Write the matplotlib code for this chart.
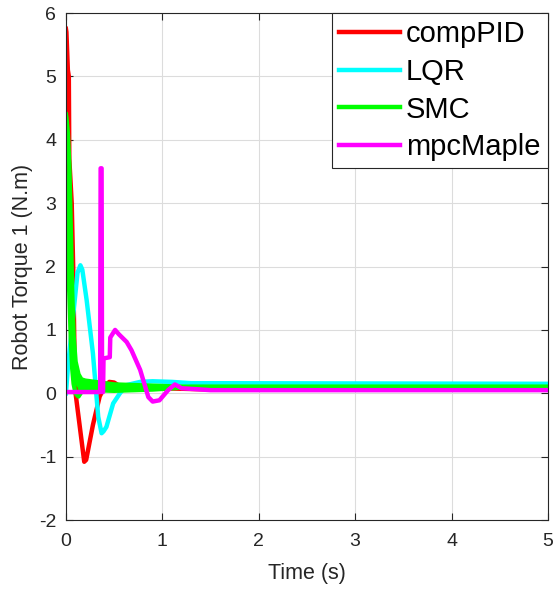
import matplotlib
matplotlib.use('Agg')
import matplotlib.pyplot as plt

plt.rcParams['font.family'] = ['Liberation Sans', 'DejaVu Sans']
plt.rcParams['axes.unicode_minus'] = False

# compPID
pid_t = [0, 0.005, 0.02, 0.03, 0.035, 0.06, 0.075, 0.09, 0.1, 0.19, 0.21, 0.28, 0.35, 0.4, 0.45,
         0.5, 0.55, 0.65, 0.8, 1.0, 1.5, 5.0]
pid_v = [5.75, 5.7, 5.1, 5.0, 3.7, 3.0, 2.0, 0.5, 0.0, -1.08, -1.05, -0.5, -0.05, 0.1, 0.18,
         0.17, 0.12, 0.08, 0.1, 0.08, 0.06, 0.06]

# LQR
lqr_t = [0, 0.02, 0.12, 0.15, 0.17, 0.215, 0.28, 0.335, 0.37, 0.39, 0.42, 0.49, 0.56, 0.63,
         0.77, 0.9, 1.1, 1.3, 5.0]
lqr_v = [0, 0.4, 1.9, 2.02, 1.95, 1.47, 0.63, -0.37, -0.63, -0.6, -0.53, -0.16, 0.0, 0.13,
         0.18, 0.19, 0.18, 0.16, 0.15]

# SMC (chattering band: upper / lower envelope)
smc_t = [0, 0.005, 0.02, 0.035, 0.05, 0.065, 0.08, 0.1, 0.13, 0.16, 0.2, 0.3, 0.5, 0.7, 0.9,
         1.1, 1.3, 5.0]
smc_hi = [4.4, 4.35, 4.1, 3.6, 2.6, 1.6, 0.9, 0.5, 0.3, 0.22, 0.2, 0.18, 0.14, 0.13, 0.12,
          0.11, 0.1, 0.1]
smc_lo = [1.8, 1.8, 1.9, 1.6, 0.9, 0.4, 0.15, 0.0, -0.05, 0.02, 0.05, 0.05, 0.04, 0.05, 0.06,
          0.08, 0.1, 0.1]

# mpcMaple
mpc_t = [0, 0.355, 0.36, 0.37, 0.375, 0.385, 0.39, 0.455, 0.46, 0.51, 0.55, 0.63, 0.68, 0.77,
         0.855, 0.9, 0.97, 1.06, 1.13, 1.2, 1.5, 5.0]
mpc_v = [0.02, 0.02, 3.55, 3.55, 0.02, 0.02, 0.55, 0.57, 0.88, 1.0, 0.93, 0.81, 0.68, 0.37,
         -0.06, -0.13, -0.11, 0.05, 0.14, 0.08, 0.05, 0.05]

lw = 3.2
fig = plt.figure(figsize=(5.54, 5.91), dpi=100)
ax = fig.add_axes([0.119, 0.120, 0.870, 0.858])

ax.plot(pid_t, pid_v, color='#ff0000', lw=lw, label='compPID')
ax.plot(lqr_t, lqr_v, color='#00ffff', lw=lw, label='LQR')
smc_mid = [(a + b) / 2 for a, b in zip(smc_hi, smc_lo)]
ax.fill_between(smc_t, smc_lo, smc_hi, color='#00ff00', lw=0)
ax.plot(smc_t, smc_hi, color='#00ff00', lw=lw)
ax.plot(smc_t, smc_lo, color='#00ff00', lw=lw)
ax.plot(smc_t, smc_mid, color='#00ff00', lw=lw, label='SMC')
ax.plot(mpc_t, mpc_v, color='#ff00ff', lw=lw, label='mpcMaple')

ax.set_xlim(0, 5)
ax.set_ylim(-2, 6)
ax.set_xticks(range(0, 6))
ax.set_yticks(range(-2, 7))
ax.grid(True, color='#dcdcdc', lw=0.8)
ax.set_axisbelow(True)
ax.tick_params(direction='in', top=True, right=True, labelsize=14, colors='#262626',
               length=5)
ax.tick_params(axis='x', pad=9)
ax.tick_params(axis='y', pad=7)
for s in ax.spines.values():
    s.set_color('#262626')
    s.set_linewidth(0.8)

ax.set_xlabel('Time (s)', fontsize=15.5, color='#262626', labelpad=10)
ax.set_ylabel('Robot Torque 1 (N.m)', fontsize=15.5, color='#262626', labelpad=4)

leg = ax.legend(loc='upper right', fontsize=21, borderaxespad=0, fancybox=False,
                framealpha=1, edgecolor='#262626', handlelength=2.1, handletextpad=0.2,
                labelspacing=0.33, borderpad=0.25)
leg.get_frame().set_linewidth(0.8)

fig.savefig('out.png', dpi=100)
